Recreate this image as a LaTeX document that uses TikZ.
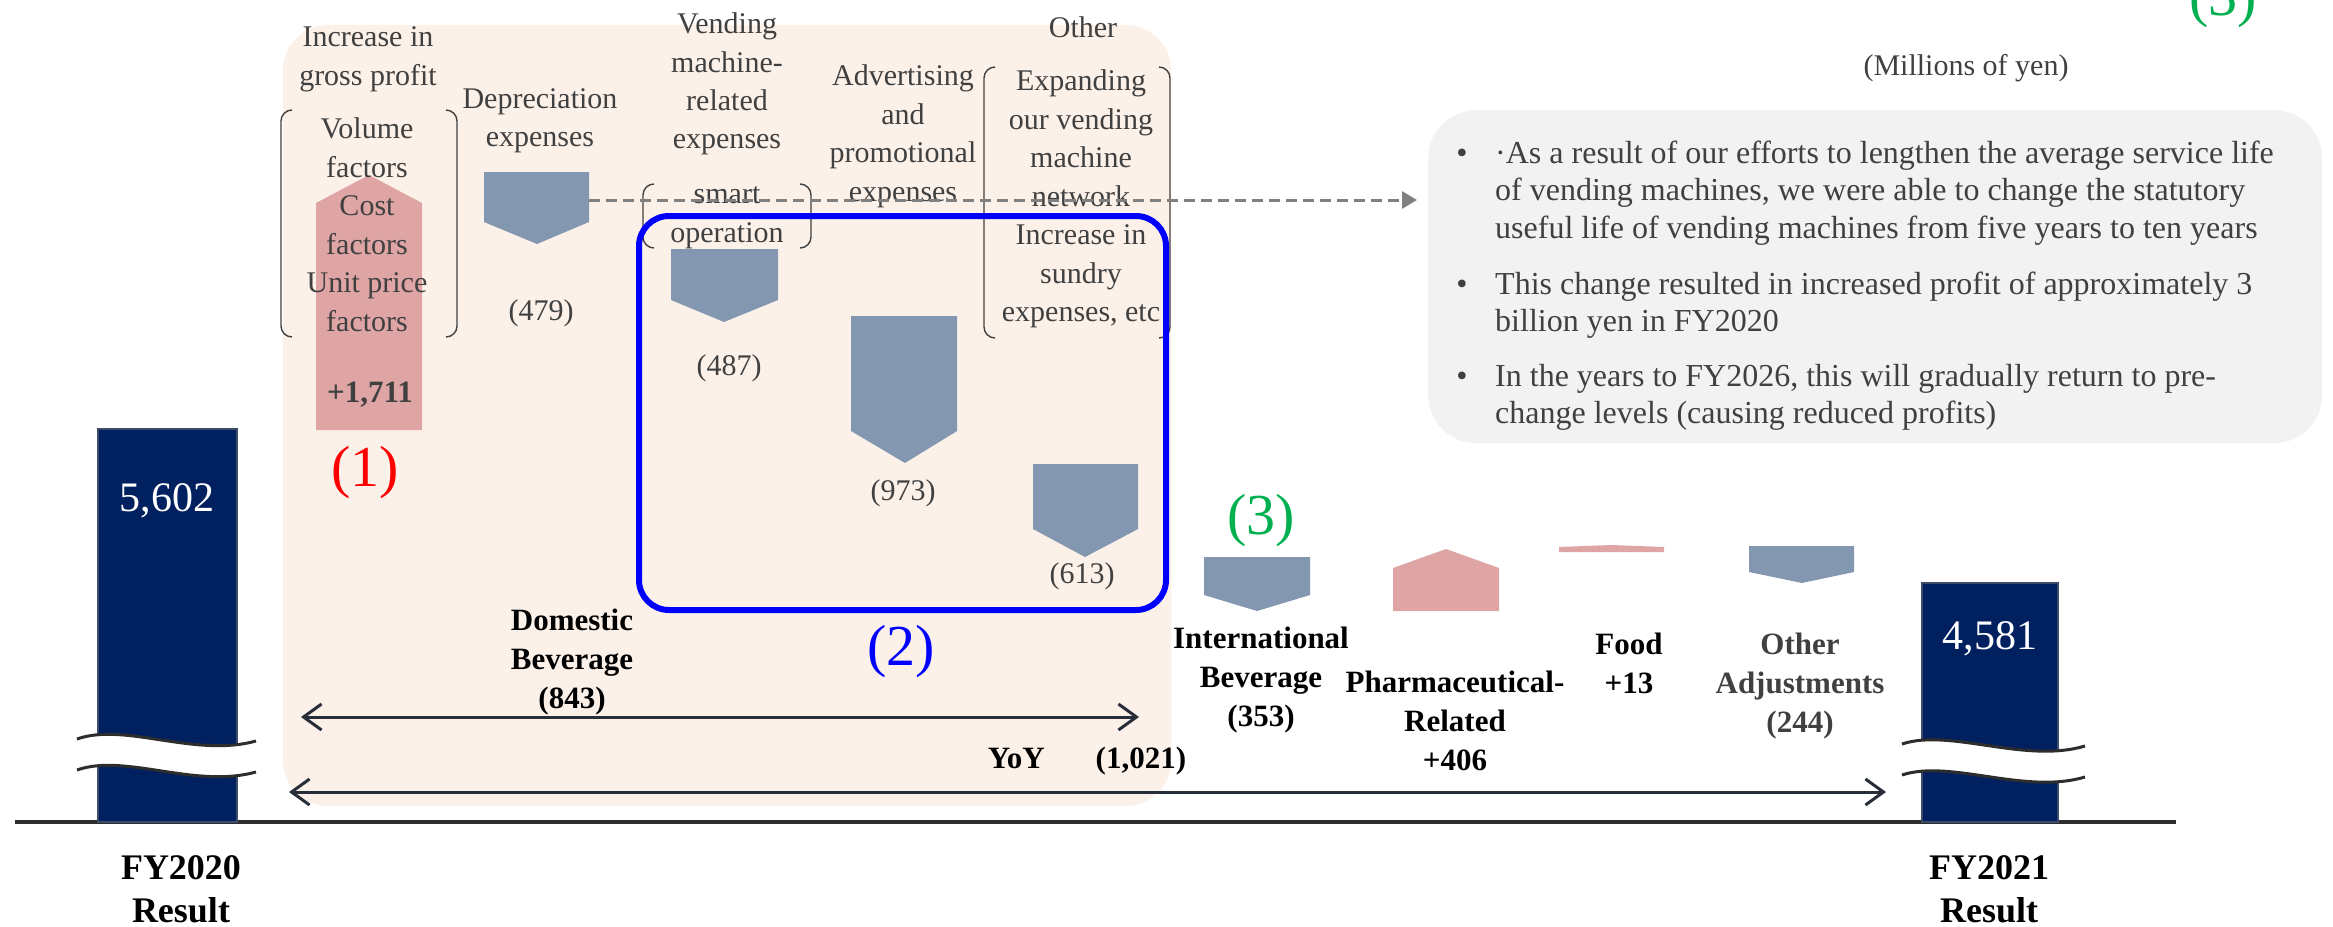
\documentclass[tikz,border=0pt]{standalone}
\usepackage{fontspec}
\setmainfont{Liberation Serif}
\usetikzlibrary{arrows.meta}
\definecolor{peach}{RGB}{252,241,233}
\definecolor{navy}{RGB}{0,32,96}
\definecolor{navyedge}{RGB}{60,76,104}
\definecolor{dnarrow}{RGB}{132,151,176}
\definecolor{uparrow}{RGB}{223,164,164}
\definecolor{txtgray}{RGB}{64,64,64}
\definecolor{notegray}{RGB}{242,242,242}
\definecolor{dashgray}{RGB}{128,128,128}
\definecolor{axisgray}{RGB}{45,45,45}
\definecolor{arrowdark}{RGB}{40,46,56}
\definecolor{mygreen}{RGB}{0,176,80}
\newcommand\mlc[1]{\parbox[t]{400pt}{\centering #1}}
\newcommand\mll[1]{\parbox[t]{900pt}{\raggedright #1}}
\tikzset{
  lbl/.style={anchor=base, inner sep=0pt, text=txtgray, font=\fontsize{30}{38.5}\selectfont},
  blbl/.style={anchor=base, inner sep=0pt, text=black, font=\fontsize{31}{39}\selectfont\bfseries},
  glbl/.style={blbl, text=txtgray},
  fylbl/.style={anchor=base, inner sep=0pt, text=black, font=\fontsize{36}{43}\selectfont\bfseries},
  numlbl/.style={anchor=base, inner sep=0pt, text=white, font=\fontsize{42}{48}\selectfont},
  biglbl/.style={anchor=base, inner sep=0pt, font=\fontsize{58}{64}\selectfont},
  notelbl/.style={anchor=base west, inner sep=0pt, text=txtgray, font=\fontsize{32}{37.7}\selectfont},
  bulletlbl/.style={anchor=base, inner sep=0pt, text=txtgray, font=\fontsize{32}{37.7}\selectfont},
  bar/.style={fill=navy, draw=navyedge, line width=2pt},
  downarr/.style={fill=dnarrow},
  uparr/.style={fill=uparrow},
  brk/.style={draw=txtgray, line width=1.4pt, rounded corners=11pt},
  wave/.style={draw=axisgray, line width=3pt},
  dimarrow/.style={draw=arrowdark, line width=3pt, {Straight Barb[length=18pt,width=26pt]}-{Straight Barb[length=18pt,width=26pt]}},
  dasharrow/.style={draw=dashgray, line width=3pt, dash pattern=on 11pt off 6pt, -{Triangle[length=15pt,width=17pt]}},
}
\begin{document}
\begin{tikzpicture}[x=1pt,y=-1pt]
\useasboundingbox (0,0) rectangle (2333,926);
% background panels
\fill[peach, rounded corners=45pt] (283,25) rectangle (1171,806);
\node[fill=notegray, rounded corners=48pt, minimum width=894pt, minimum height=333pt, inner sep=0pt, anchor=north west] (notes) at (1428,110) {};

% partial green marker at top right
\node[biglbl, text=mygreen] (g5) at (2223,15) {(3)};

% axis
\draw[draw=axisgray, line width=4pt] (15,822) coordinate (axl) -- (2176,822) coordinate (axr);

% result bars
\fill[bar] (98,429) rectangle (237,822);
\fill[bar] (1922,583) rectangle (2058,822);
\node[numlbl] (v2020) at (167,511) {5,602};
\node[numlbl] (v2021) at (1990,649) {4,581};

% breaks
\fill[white] (77,739) .. controls (125,722) and (195,758) .. (256,741) -- (256,772) .. controls (195,789) and (125,753) .. (77,770) -- cycle;
\draw[wave] (77,739) .. controls (125,722) and (195,758) .. (256,741);
\draw[wave] (77,770) .. controls (125,753) and (195,789) .. (256,772);
\fill[white] (1902,744) .. controls (1950,728) and (2025,764) .. (2085,746) -- (2085,777) .. controls (2025,795) and (1950,759) .. (1902,775) -- cycle;
\draw[wave] (1902,744) .. controls (1950,728) and (2025,764) .. (2085,746);
\draw[wave] (1902,775) .. controls (1950,759) and (2025,795) .. (2085,777);

% waterfall arrows
\fill[uparr] (316,430) -- (316,203) -- (369,175) -- (422,203) -- (422,430) -- cycle;
\fill[downarr] (484,172) -- (589,172) -- (589,222) -- (537,244) -- (484,222) -- cycle;
\fill[downarr] (671,249) -- (778,249) -- (778,300) -- (724,322) -- (671,300) -- cycle;
\fill[downarr] (851,316) -- (957,316) -- (957,431) -- (905,463) -- (851,431) -- cycle;
\fill[downarr] (1033,464) -- (1138,464) -- (1138,529) -- (1085,557) -- (1033,529) -- cycle;
\fill[downarr] (1204,557) -- (1310,557) -- (1310,595) -- (1257,611) -- (1204,595) -- cycle;
\fill[uparr] (1393,611) -- (1393,568) -- (1446,549) -- (1499,568) -- (1499,611) -- cycle;
\fill[uparr] (1559,552) -- (1559,547) -- (1611,545) -- (1664,547) -- (1664,552) -- cycle;
\fill[downarr] (1749,546) -- (1854,546) -- (1854,572) -- (1802,583) -- (1749,572) -- cycle;
\coordinate (dep) at (589,200);

% brackets
\draw[brk] (292,110) -- (281,110) -- (281,337) -- (292,337);
\draw[brk] (446,110) -- (457,110) -- (457,337) -- (446,337);
\draw[brk] (654,184) -- (643,184) -- (643,248) -- (654,248);
\draw[brk] (800,184) -- (811,184) -- (811,248) -- (800,248);
\draw[brk] (995,67) -- (984,67) -- (984,338) -- (995,338);
\draw[brk] (1159,67) -- (1170,67) -- (1170,338) -- (1159,338);

% domestic labels
\node[lbl] (gp) at (368,46.5) {\mlc{Increase in\\gross profit}};
\node[lbl] (fac) at (367,138.5) {\mlc{Volume\\factors\\Cost\\factors\\Unit price\\factors}};
\node[glbl] (v1711) at (370,402) {+1,711};
\node[lbl] (depl) at (540,108) {\mlc{Depreciation\\expenses}};
\node[lbl] (v479) at (541,320) {(479)};
\node[lbl] (vml) at (727,33.5) {\mlc{Vending\\machine-\\related\\expenses}};
\node[lbl] (smart) at (727,203.5) {\mlc{smart\\operation}};
\node[lbl] (v487) at (729,375) {(487)};
\node[lbl] (adv) at (903,85.5) {\mlc{Advertising\\and\\promotional\\expenses}};
\node[lbl] (v973) at (903,500) {(973)};
\node[lbl] (oth) at (1083,37) {Other};
\node[lbl] (othd) at (1081,90.5) {\mlc{Expanding\\our vending\\machine\\network\\Increase in\\sundry\\expenses, etc}};
\node[lbl] (v613) at (1082,583) {(613)};

\node[biglbl, text=red] (m1) at (365,486) {(1)};
\node[biglbl, text=blue] (m2) at (901,665) {(2)};
\node[biglbl, text=mygreen] (m3) at (1261,534) {(3)};

% blue frame
\draw[blue, line width=6pt, rounded corners=30pt] (639,216) rectangle (1166,610);

% dashed connector
\draw[dasharrow, shorten >=11pt] (dep) -- (dep -| notes.west);

% segment labels
\node[blbl] (dom) at (572,630) {\mlc{Domestic\\Beverage\\(843)}};
\node[blbl] (yoy) at (1087,768) {YoY\hspace{51pt}(1,021)};
\node[blbl] (intl) at (1261,648) {\mlc{International\\Beverage\\(353)}};
\node[blbl] (pharma) at (1455,692) {\mlc{Pharmaceutical-\\Related\\+406}};
\node[blbl] (food) at (1629,654) {\mlc{Food\\+13}};
\node[glbl] (adj) at (1800,654) {\mlc{Other\\Adjustments\\(244)}};
\node[fylbl] (fy20) at (181,879) {\mlc{FY2020\\Result}};
\node[fylbl] (fy21) at (1989,879) {\mlc{FY2021\\Result}};

% dimension arrows
\coordinate (d1l) at (301,717);
\coordinate (d1r) at (1139,717);
\coordinate (d2l) at (289,792);
\coordinate (d2r) at (1886,792);
\draw[dimarrow] (d1l) -- (d1r);
\draw[dimarrow] (d2l) -- (d2r);

% notes
\node[lbl] (unit) at (1966,75) {(Millions of yen)};
\node[bulletlbl] (b1) at (1462,163) {•};
\node[bulletlbl] (b2) at (1462,294) {•};
\node[bulletlbl] (b3) at (1462,386) {•};
\node[notelbl] (n1) at (1495,163) {\mll{·As a result of our efforts to lengthen the average service life\\of vending machines, we were able to change the statutory\\useful life of vending machines from five years to ten years}};
\node[notelbl] (n2) at (1495,294) {\mll{This change resulted in increased profit of approximately 3\\billion yen in FY2020}};
\node[notelbl] (n3) at (1495,386) {\mll{In the years to FY2026, this will gradually return to pre-\\change levels (causing reduced profits)}};
\end{tikzpicture}
\end{document}
